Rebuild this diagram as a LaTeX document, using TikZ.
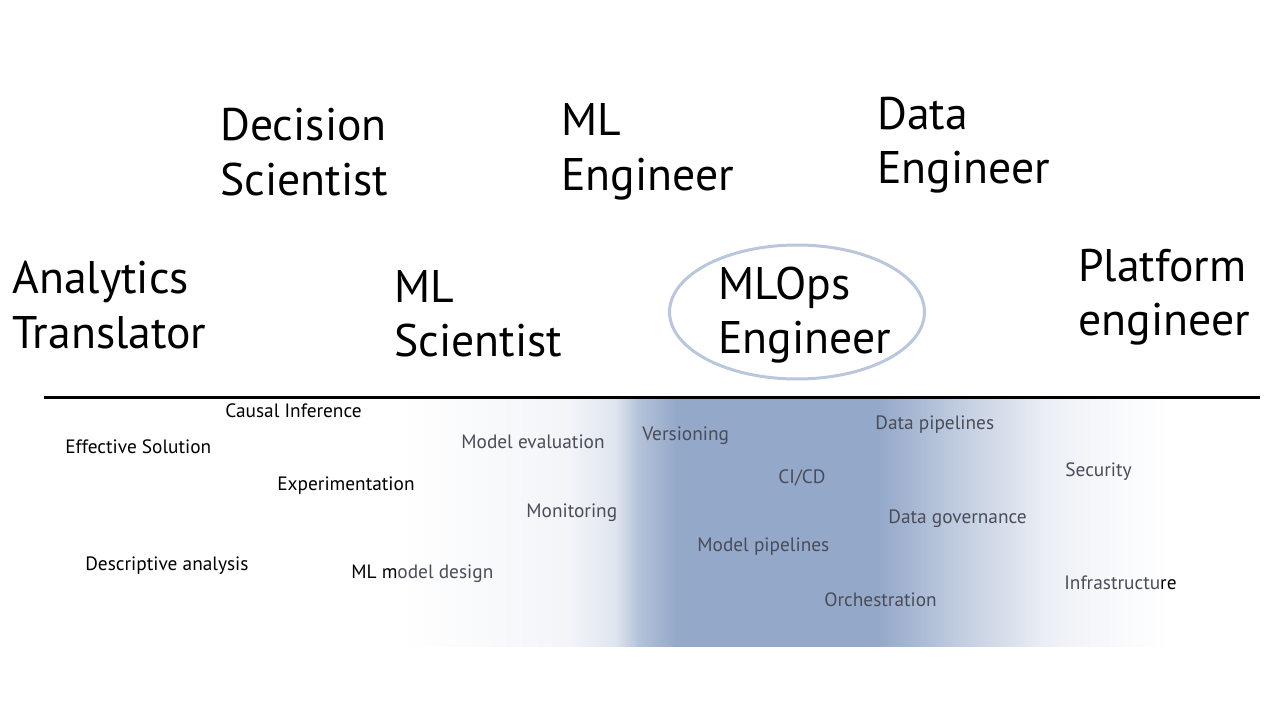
\documentclass[tikz,border=0pt]{standalone}
\usepackage{fontspec}
\setmainfont{PT Sans}
\usepackage{xcolor}
\usetikzlibrary{shapes.geometric}
\definecolor{Haze}{HTML}{94A8C9}
\definecolor{Ring}{HTML}{B9C6DC}
\definecolor{Slate}{HTML}{4A4C58}
\pgfdeclarehorizontalshading{skillband}{100bp}{color(0bp)=(white); color(25bp)=(white);
  color(36bp)=(Haze!12); color(39bp)=(Haze!30); color(40.5bp)=(Haze!70); color(43bp)=(Haze);
  color(56bp)=(Haze); color(61bp)=(Haze!60); color(67bp)=(Haze!18); color(72bp)=(Haze!5);
  color(75bp)=(white); color(100bp)=(white)}

\begin{document}
\begin{tikzpicture}[
    x=0.02cm,y=-0.02cm,
    role/.style={align=left,anchor=west,inner sep=0pt,font=\fontsize{26}{31}\selectfont},
    skill/.style={anchor=west,inner sep=0pt,font=\fontsize{11}{13}\selectfont},
    soft/.style={skill,text=Slate},
    ring/.style={draw=Ring,line width=1.7pt,ellipse,inner sep=0pt,minimum width=5.1cm,minimum height=2.68cm}
]
\useasboundingbox (0,0) rectangle (1280,720);
\shade[shading=skillband] (400,398) rectangle (1170,646);
\draw[line width=1.7pt] (44,397) -- (1260,397);
% roles
\node[role] (decsci) at (220,152) {Decision\\Scientist};
\node[role] (mleng) at (561,152) {ML\\Engineer};
\node[role] (dataeng) at (877,145) {Data\\Engineer};
\node[role] (translator) at (12,305) {Analytics\\Translator};
\node[role] (mlsci) at (394,314) {ML\\Scientist};
\node[role] (mlops) at (718,315) {MLOps\\Engineer};
\node[role] (platform) at (1078,297) {Platform\\engineer};
\node[ring] (focus) at (797,312) {};
% skills
\node[skill] (causal) at (225,411) {Causal Inference};
\node[skill] (solution) at (65,447) {Effective Solution};
\node[skill] (experiment) at (277,486) {Experimentation};
\node[skill] (descriptive) at (85,566) {Descriptive analysis};
\node[soft] (design) at (351,574) {\textcolor{black}{ML m}odel design};
\node[soft] (evaluation) at (461,442) {Model evaluation};
\node[soft] (monitoring) at (526,513) {Monitoring};
\node[soft] (versioning) at (642,436) {Versioning};
\node[soft] (cicd) at (778,478) {CI/CD};
\node[soft] (modelpipe) at (697,547) {Model pipelines};
\node[soft] (orchestration) at (824,600) {Orchestration};
\node[soft] (datapipe) at (875,425) {Data pipelines};
\node[soft] (governance) at (888,519) {Data governance};
\node[soft] (security) at (1065,472) {Security};
\node[soft] (infra) at (1064,583) {Infrastructu\textcolor{black}{re}};
\end{tikzpicture}
\end{document}
